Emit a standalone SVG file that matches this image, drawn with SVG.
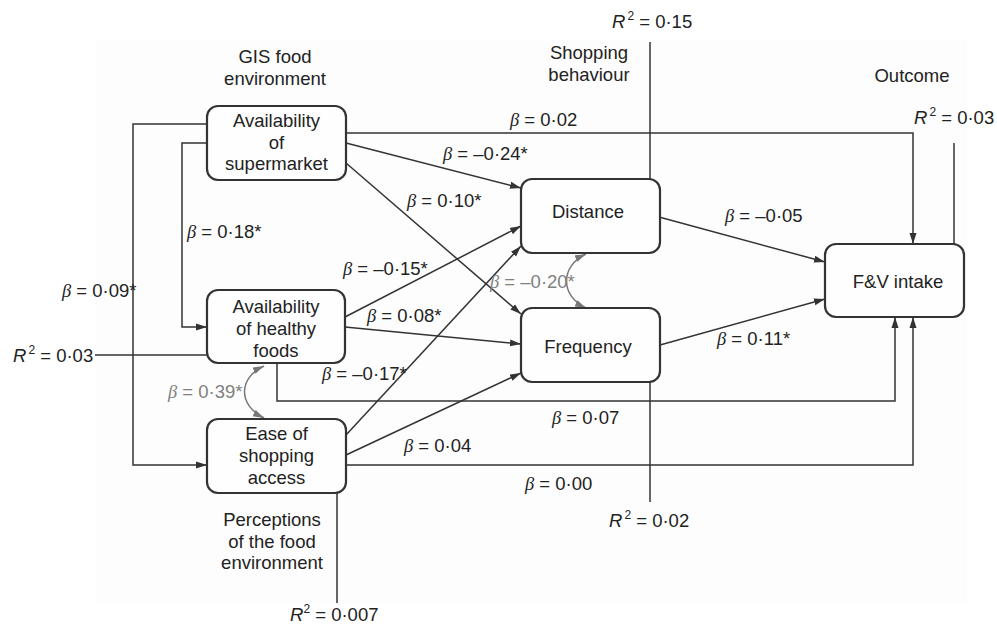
<svg xmlns="http://www.w3.org/2000/svg" width="997" height="626" viewBox="0 0 997 626">
<style>
text{font-family:"Liberation Sans",Arial,sans-serif;font-size:18.5px;fill:#222}
.b{font-family:"Liberation Serif","Times New Roman",serif;font-style:italic}
.i{font-style:italic}
.sup{font-size:12px}
.g{fill:#808080}
.box{fill:#fefefe;stroke:#333;stroke-width:2.2}
.c{fill:none;stroke:#333;stroke-width:1.5}
.cg{fill:none;stroke:#777;stroke-width:1.5}
.m{text-anchor:middle}
</style>
<defs>
<marker id="a" markerUnits="userSpaceOnUse" markerWidth="11" markerHeight="8" refX="11" refY="4" orient="auto"><path d="M0,0.5 L11,4 L0,7.5 z" fill="#333"/></marker>
<marker id="ag" markerUnits="userSpaceOnUse" markerWidth="11" markerHeight="8" refX="11" refY="4" orient="auto-start-reverse"><path d="M0,0.5 L11,4 L0,7.5 z" fill="#777"/></marker>
</defs>
<rect x="96" y="40" width="871" height="565" fill="#fdfdfd"/>

<g id="connectors">
<polyline class="c" points="207,124 133,124 133,465 207,465" marker-end="url(#a)"/>
<polyline class="c" points="207,143 182,143 182,327 207,327" marker-end="url(#a)"/>
<polyline class="c" points="346,133 913,133 913,244" marker-end="url(#a)"/>
<line class="c" x1="346" y1="143" x2="521" y2="188" marker-end="url(#a)"/>
<line class="c" x1="346" y1="163" x2="521" y2="314" marker-end="url(#a)"/>
<line class="c" x1="345" y1="317" x2="521" y2="226" marker-end="url(#a)"/>
<line class="c" x1="345" y1="327" x2="521" y2="344" marker-end="url(#a)"/>
<polyline class="c" points="277,363 277,401 895,401 895,317" marker-end="url(#a)"/>
<line class="c" x1="346" y1="435" x2="521" y2="246" marker-end="url(#a)"/>
<line class="c" x1="346" y1="455" x2="521" y2="373" marker-end="url(#a)"/>
<polyline class="c" points="346,465 913,465 913,317" marker-end="url(#a)"/>
<line class="c" x1="659" y1="217" x2="825" y2="262" marker-end="url(#a)"/>
<line class="c" x1="660" y1="345" x2="825" y2="299" marker-end="url(#a)"/>
<path class="cg" d="M264,366 C238,378 238,405 264,418" marker-start="url(#ag)" marker-end="url(#ag)"/>
<path class="cg" d="M586,254 C560,266 560,296 586,308" marker-start="url(#ag)" marker-end="url(#ag)"/>
<line class="c" x1="650" y1="42" x2="650" y2="180"/>
<line class="c" x1="954" y1="143" x2="954" y2="244"/>
<line class="c" x1="650" y1="382" x2="650" y2="502"/>
<line class="c" x1="337" y1="493" x2="337" y2="603"/>
<line class="c" x1="95" y1="355" x2="207" y2="355"/>
</g>

<g id="n-supermarket">
<rect class="box" x="207" y="106" width="139" height="74" rx="11"/>
<text class="m" x="276.5" y="127">Availability</text>
<text class="m" x="276.5" y="148.5">of</text>
<text class="m" x="276.5" y="170">supermarket</text>
</g>
<g id="n-healthy">
<rect class="box" x="207" y="290" width="138" height="73" rx="11"/>
<text class="m" x="276" y="313">Availability</text>
<text class="m" x="276" y="335">of healthy</text>
<text class="m" x="276" y="357">foods</text>
</g>
<g id="n-ease">
<rect class="box" x="207" y="419" width="139" height="74" rx="11"/>
<text class="m" x="276.5" y="439.5">Ease of</text>
<text class="m" x="276.5" y="461.5">shopping</text>
<text class="m" x="276.5" y="483.5">access</text>
</g>
<g id="n-distance">
<rect class="box" x="521" y="179" width="139" height="74" rx="11"/>
<text class="m" x="588" y="218">Distance</text>
</g>
<g id="n-frequency">
<rect class="box" x="521" y="308" width="139" height="74" rx="11"/>
<text class="m" x="588" y="353">Frequency</text>
</g>
<g id="n-fv">
<rect class="box" x="825" y="244" width="139" height="73" rx="11"/>
<text class="m" x="898" y="288">F&amp;V intake</text>
</g>

<g id="headers">
<text class="m" x="275" y="63">GIS food</text>
<text class="m" x="275" y="85">environment</text>
<text class="m" x="589" y="59">Shopping</text>
<text class="m" x="589" y="81">behaviour</text>
<text class="m" x="912" y="82">Outcome</text>
<text class="m" x="272" y="526">Perceptions</text>
<text class="m" x="272" y="548">of the food</text>
<text class="m" x="272" y="569">environment</text>
</g>

<g id="r2-labels">
<text x="612" y="28"><tspan class="i">R</tspan><tspan class="sup" dx="2" dy="-8">2</tspan><tspan dy="8"> = 0·15</tspan></text>
<text x="914" y="124"><tspan class="i">R</tspan><tspan class="sup" dx="2" dy="-8">2</tspan><tspan dy="8"> = 0·03</tspan></text>
<text x="13" y="362"><tspan class="i">R</tspan><tspan class="sup" dx="2" dy="-8">2</tspan><tspan dy="8"> = 0·03</tspan></text>
<text x="609" y="527"><tspan class="i">R</tspan><tspan class="sup" dx="2" dy="-8">2</tspan><tspan dy="8"> = 0·02</tspan></text>
<text x="290" y="621"><tspan class="i">R</tspan><tspan class="sup" dy="-8">2</tspan><tspan dy="8"> = 0·007</tspan></text>
</g>

<g id="beta-labels">
<text x="62" y="297"><tspan class="b">β</tspan> = 0·09*</text>
<text x="187" y="238"><tspan class="b">β</tspan> = 0·18*</text>
<text x="510" y="126"><tspan class="b">β</tspan> = 0·02</text>
<text x="443" y="160"><tspan class="b">β</tspan> = –0·24*</text>
<text x="407" y="207"><tspan class="b">β</tspan> = 0·10*</text>
<text x="343" y="275"><tspan class="b">β</tspan> = –0·15*</text>
<text x="367" y="322"><tspan class="b">β</tspan> = 0·08*</text>
<text x="322" y="380"><tspan class="b">β</tspan> = –0·17*</text>
<text x="404" y="452"><tspan class="b">β</tspan> = 0·04</text>
<text x="552" y="424"><tspan class="b">β</tspan> = 0·07</text>
<text x="525" y="490"><tspan class="b">β</tspan> = 0·00</text>
<text x="725" y="222"><tspan class="b">β</tspan> = –0·05</text>
<text x="717" y="345"><tspan class="b">β</tspan> = 0·11*</text>
<text class="g" x="168" y="398"><tspan class="b g">β</tspan> = 0·39*</text>
<text class="g" x="490" y="288"><tspan class="b g">β</tspan> = –0·20*</text>
</g>
</svg>
